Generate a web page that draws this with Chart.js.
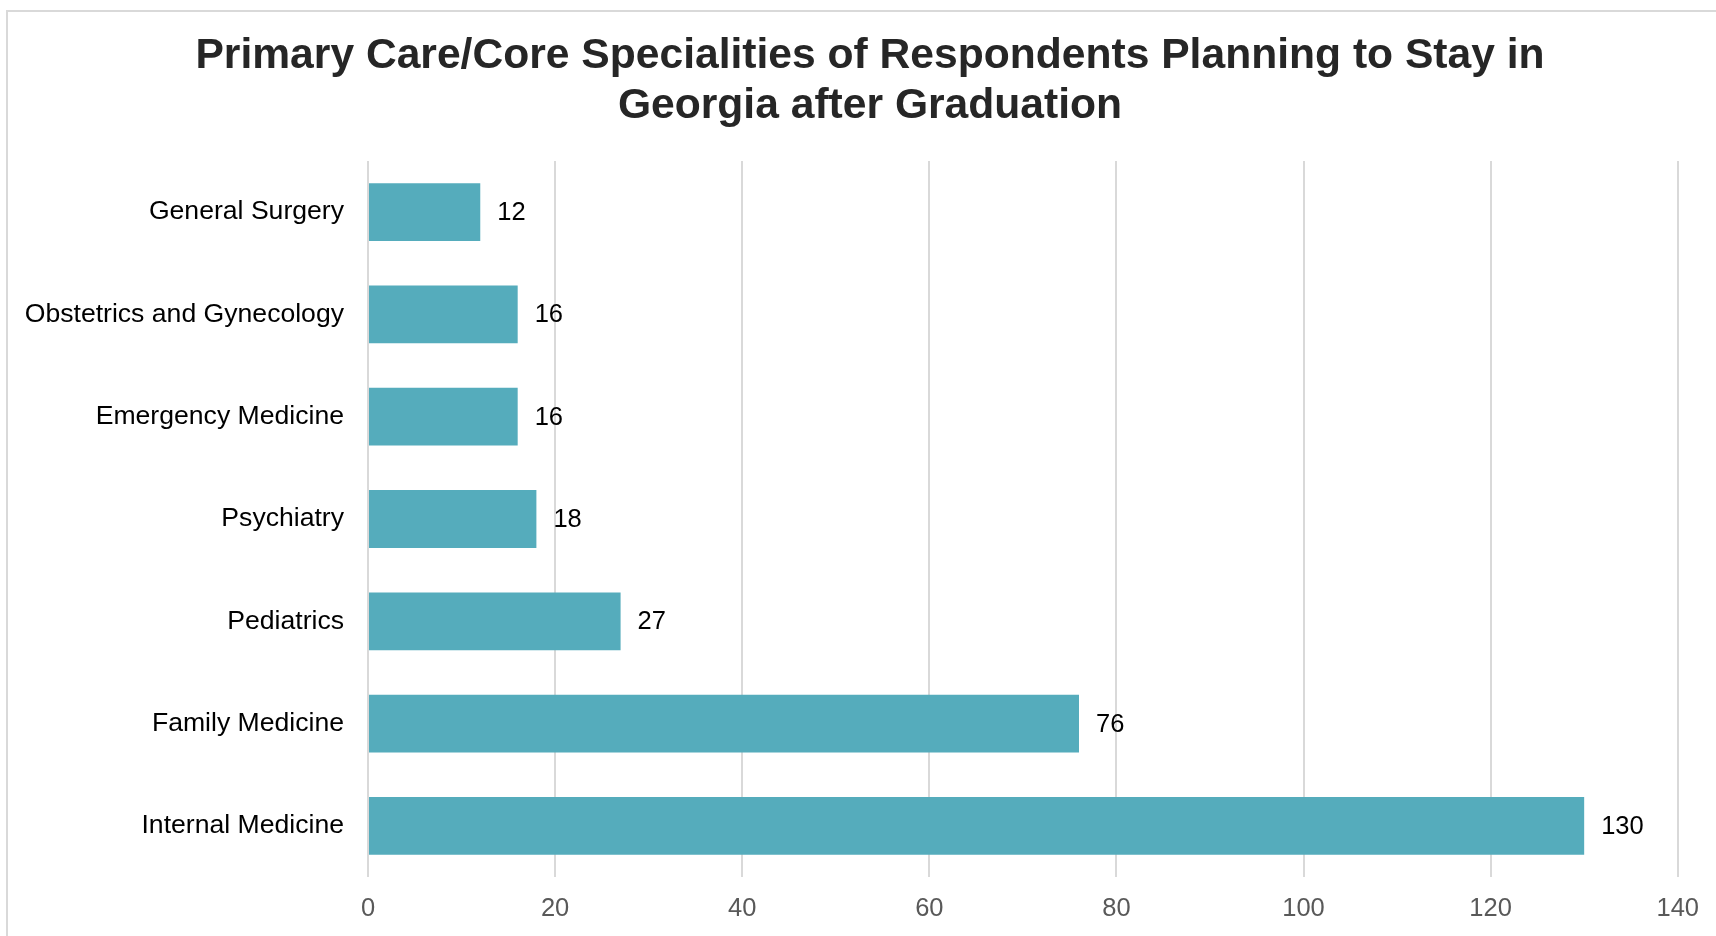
<!DOCTYPE html>
<html>
<head>
<meta charset="utf-8">
<title>Primary Care/Core Specialities</title>
<script src="https://cdn.jsdelivr.net/npm/chart.js@4.4.1/dist/chart.umd.min.js"></script>
<style>
  html, body { margin: 0; padding: 0; background: #fff; overflow: hidden; }
  #frame {
    position: absolute; left: 6px; top: 10px; width: 1800px; height: 1000px;
    border-left: 2px solid #d9d9d9; border-top: 2px solid #d9d9d9;
  }
  #wrap { position: absolute; left: 0; top: 0; width: 1716px; height: 936px; }
</style>
</head>
<body>
<div id="frame"></div>
<div id="wrap"><canvas id="chart"></canvas></div>
<script>
// Specialities, top to bottom
const specialities = [
  'General Surgery',
  'Obstetrics and Gynecology',
  'Emergency Medicine',
  'Psychiatry',
  'Pediatrics',
  'Family Medicine',
  'Internal Medicine'
];
const respondents = [12, 16, 16, 18, 27, 76, 130];
const titleLines = [
  'Primary Care/Core Specialities of Respondents Planning to Stay in',
  'Georgia after Graduation'
];

const FONT = "'Liberation Sans', Arial, sans-serif";

// two-line heading, centred a little right of the canvas middle
const heading = {
  id: 'heading',
  afterDraw(chart) {
    const { ctx } = chart;
    ctx.save();
    ctx.font = 'bold 42.6px ' + FONT;
    ctx.fillStyle = '#262626';
    ctx.textAlign = 'center';
    ctx.textBaseline = 'middle';
    titleLines.forEach((line, i) => ctx.fillText(line, 870, 56 + i * 50));
    ctx.restore();
  }
};

// value labels just past the end of each bar
const barValues = {
  id: 'barValues',
  afterDatasetsDraw(chart) {
    const { ctx } = chart;
    const meta = chart.getDatasetMeta(0);
    ctx.save();
    ctx.font = '25.5px ' + FONT;
    ctx.fillStyle = '#000';
    ctx.textAlign = 'left';
    ctx.textBaseline = 'middle';
    meta.data.forEach((bar, i) => {
      ctx.fillText(String(respondents[i]), bar.x + 17, bar.y + 1);
    });
    ctx.restore();
  }
};

new Chart(document.getElementById('chart'), {
  type: 'bar',
  data: {
    labels: specialities,
    datasets: [{
      data: respondents,
      backgroundColor: '#55acbc',
      borderWidth: 0,
      barPercentage: 0.565,
      categoryPercentage: 1
    }]
  },
  options: {
    indexAxis: 'y',
    responsive: true,
    maintainAspectRatio: false,
    animation: false,
    layout: { padding: { left: 0, right: 35, top: 161, bottom: 12 } },
    plugins: {
      legend: { display: false },
      tooltip: { enabled: false },
      title: { display: false }
    },
    scales: {
      x: {
        min: 0,
        max: 140,
        ticks: {
          stepSize: 20,
          color: '#595959',
          font: { family: FONT, size: 25.5 },
          padding: 17
        },
        grid: { color: '#d9d9d9', lineWidth: 2, drawTicks: false },
        border: { display: false },
        afterFit(scale) { scale.height = 47; }
      },
      y: {
        ticks: {
          color: '#000',
          font: { family: FONT, size: 26.6 },
          padding: 24
        },
        grid: { display: false, drawTicks: false },
        border: { display: false },
        afterFit(scale) { scale.width = 368; }
      }
    }
  },
  plugins: [barValues, heading]
});
</script>
</body>
</html>
